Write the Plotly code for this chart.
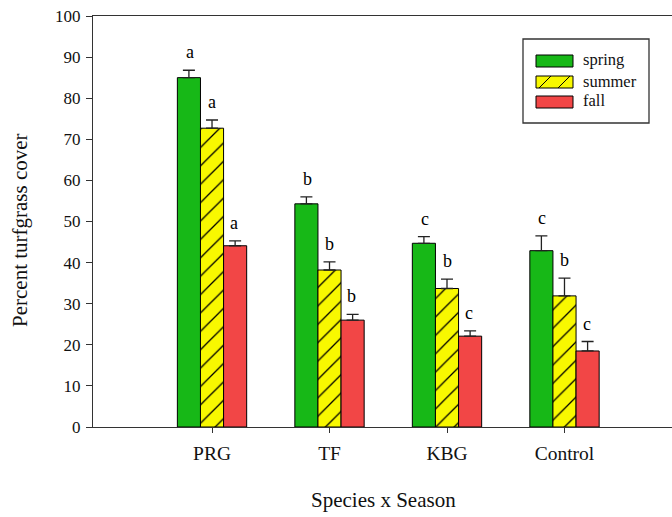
import plotly.graph_objects as go

categories = ["PRG", "TF", "KBG", "Control"]
seasons = ["spring", "summer", "fall"]
spring = [85.0, 54.3, 44.7, 42.9]
summer = [72.7, 38.2, 33.7, 31.9]
fall = [44.1, 26.0, 22.1, 18.5]
spring_err = [1.8, 1.7, 1.6, 3.6]
summer_err = [2.0, 2.0, 2.3, 4.3]
fall_err = [1.2, 1.4, 1.3, 2.3]
spring_letters = ["a", "b", "c", "c"]
summer_letters = ["a", "b", "b", "b"]
fall_letters = ["a", "b", "c", "c"]
y_ticks = [0, 10, 20, 30, 40, 50, 60, 70, 80, 90, 100]

GREEN = "#17b817"
YELLOW = "#f8f800"
RED = "#f24646"
FONT = "Liberation Serif, Times New Roman, DejaVu Serif, serif"

W, H = 672, 517
ML, MR, MT, MB = 93, 0, 16, 90
PW, PH = W - ML - MR, H - MT - MB

fig = go.Figure()
series = [
    ("spring", spring, spring_err, GREEN, None),
    ("summer", summer, summer_err, YELLOW, "/"),
    ("fall", fall, fall_err, RED, None),
]
for name, vals, errs, col, pat in series:
    marker = dict(color=col, line=dict(color="black", width=1))
    if pat:
        marker["pattern"] = dict(shape=pat, fgcolor="black", bgcolor=col,
                                 size=13, solidity=0.1, fillmode="replace")
    fig.add_trace(go.Bar(
        name=name, x=categories, y=vals, marker=marker, showlegend=False,
        hoverinfo="skip",
        error_y=dict(type="data", symmetric=False, array=errs,
                     arrayminus=[0] * len(errs), color="#222222",
                     thickness=1.3, width=6),
    ))

# significance letters (offset per series within the group)
offsets = [-0.19, 0.0, 0.19]
for k, (vals, errs, letters) in enumerate([(spring, spring_err, spring_letters),
                                           (summer, summer_err, summer_letters),
                                           (fall, fall_err, fall_letters)]):
    for i, cat in enumerate(categories):
        fig.add_annotation(x=i + offsets[k], y=vals[i] + errs[i], xref="x", yref="y",
                           text=letters[i], showarrow=False, xanchor="center",
                           yanchor="bottom", yshift=6,
                           font=dict(family=FONT, size=18, color="black"))

def px_x(p):
    return (p - ML) / PW

def px_y(p):
    return (H - MB - p) / PH

# custom legend
shapes = [dict(type="rect", xref="paper", yref="paper",
               x0=px_x(523), x1=px_x(649), y0=px_y(123), y1=px_y(39),
               line=dict(color="#333333", width=1.3), fillcolor="white", layer="above")]
rows = [61, 82, 102]
for (name, vals, errs, col, pat), cy in zip(series, rows):
    shapes.append(dict(type="rect", xref="paper", yref="paper",
                       x0=px_x(536), x1=px_x(573), y0=px_y(cy + 6), y1=px_y(cy - 6),
                       line=dict(color="black", width=1), fillcolor=col, layer="above"))
    if pat:
        for xs in (545, 564):
            shapes.append(dict(type="line", xref="paper", yref="paper",
                               x0=px_x(xs - 6), x1=px_x(xs + 6),
                               y0=px_y(cy + 6), y1=px_y(cy - 6),
                               line=dict(color="black", width=1), layer="above"))
    fig.add_annotation(xref="paper", yref="paper", x=px_x(581), y=px_y(cy - 1),
                       text=name, showarrow=False, xanchor="left", yanchor="middle",
                       font=dict(family=FONT, size=16.5, color="#111111"))

# axis titles
fig.add_annotation(xref="paper", yref="paper", x=px_x(383), y=px_y(500),
                   text="Species x Season", showarrow=False,
                   xanchor="center", yanchor="middle",
                   font=dict(family=FONT, size=21, color="#111111"))
fig.add_annotation(xref="paper", yref="paper", x=px_x(20), y=px_y(230),
                   text="Percent turfgrass cover", showarrow=False, textangle=-90,
                   xanchor="center", yanchor="middle",
                   font=dict(family=FONT, size=21, color="#111111"))

fig.update_layout(
    width=W, height=H, margin=dict(l=ML, r=MR, t=MT, b=MB),
    paper_bgcolor="white", plot_bgcolor="white",
    barmode="group", bargap=0.41, bargroupgap=0,
    shapes=shapes,
    font=dict(family=FONT, color="#111111"),
)
fig.update_xaxes(type="category", range=[-1.013, 3.915], showline=True, mirror=True,
                 linecolor="#333333", linewidth=1.3, ticks="outside", ticklen=5,
                 tickcolor="#333333", tickfont=dict(family=FONT, size=19.5),
                 ticklabelstandoff=3, showgrid=False, zeroline=False)
fig.update_yaxes(range=[0, 100], tickvals=y_ticks, showline=True, linecolor="#333333",
                 linewidth=1.3, ticks="outside", ticklen=6, tickcolor="#333333",
                 tickfont=dict(family=FONT, size=17), ticklabelstandoff=2,
                 showgrid=False, zeroline=False)

fig.write_html("out.html", config={"displayModeBar": False},
               post_script="document.body.style.margin='0';document.body.style.overflow='hidden';")
